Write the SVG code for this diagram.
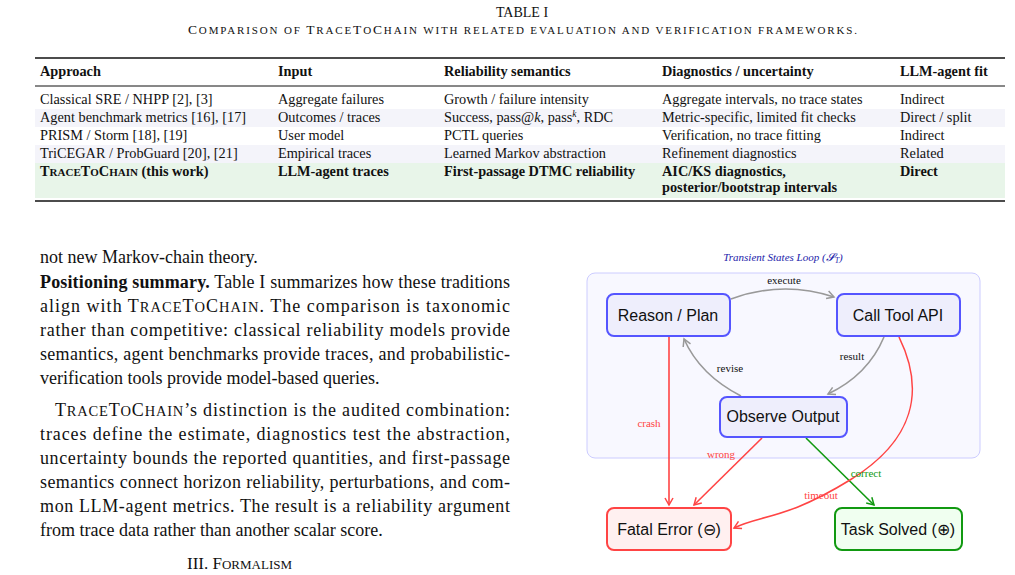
<svg xmlns="http://www.w3.org/2000/svg" width="1015" height="575" viewBox="0 0 1015 575">
<style>
.s{font-family:"Liberation Serif",serif;fill:#111}
.t{font-family:"Liberation Serif",serif;font-size:14.3px;fill:#111}
.b{font-weight:bold}
.p{font-family:"Liberation Serif",serif;font-size:18px;fill:#111}
.n{font-family:"Liberation Sans",Arial,sans-serif;font-size:16px;fill:#111;text-anchor:middle}
.l{font-family:"Liberation Serif",serif;font-size:11px;text-anchor:middle}
.bl rect{fill:#eeeefc;stroke:#5555ff;stroke-width:2}
.rd rect{fill:#fff0f0;stroke:#ff4444;stroke-width:2}
.gr rect{fill:#f0fff0;stroke:#119911;stroke-width:2}
</style>
<defs>
<marker id="ag" markerWidth="10" markerHeight="10" refX="8" refY="5" orient="auto" markerUnits="userSpaceOnUse"><path d="M1,1 L8,5 L1,9" fill="none" stroke="#999" stroke-width="1.5"/></marker>
<marker id="ar" markerWidth="10" markerHeight="10" refX="8" refY="5" orient="auto" markerUnits="userSpaceOnUse"><path d="M1,1 L8,5 L1,9" fill="none" stroke="#ff4444" stroke-width="1.5"/></marker>
<marker id="an" markerWidth="10" markerHeight="10" refX="8" refY="5" orient="auto" markerUnits="userSpaceOnUse"><path d="M1,1 L8,5 L1,9" fill="none" stroke="#119911" stroke-width="1.5"/></marker>
</defs>
<rect width="1015" height="575" fill="#fff"/>
<!-- table -->
<text class="s" x="522" y="17" font-size="14" text-anchor="middle">TABLE I</text>
<text class="s" x="188" y="34" font-size="13.5" textLength="669" lengthAdjust="spacing">C<tspan font-size="11">OMPARISON OF </tspan>T<tspan font-size="11">RACE</tspan>T<tspan font-size="11">O</tspan>C<tspan font-size="11">HAIN WITH RELATED EVALUATION AND VERIFICATION FRAMEWORKS.</tspan></text>
<rect x="35" y="109" width="970" height="18" fill="#f4f4fa"/>
<rect x="35" y="145" width="970" height="18" fill="#f4f4fa"/>
<rect x="35" y="163" width="970" height="35" fill="#e8f5e9"/>
<line x1="35" y1="58" x2="1005" y2="58" stroke="#111" stroke-width="1.6"/>
<line x1="35" y1="86" x2="1005" y2="86" stroke="#111" stroke-width="1"/>
<line x1="35" y1="201" x2="1005" y2="201" stroke="#111" stroke-width="1.6"/>
<g class="t b"><text x="40" y="76">Approach</text><text x="278" y="76">Input</text><text x="444" y="76">Reliability semantics</text><text x="662" y="76">Diagnostics / uncertainty</text><text x="900" y="76">LLM-agent fit</text></g>
<g class="t">
<text x="40" y="104">Classical SRE / NHPP [2], [3]</text><text x="278" y="104">Aggregate failures</text><text x="444" y="104">Growth / failure intensity</text><text x="662" y="104">Aggregate intervals, no trace states</text><text x="900" y="104">Indirect</text>
<text x="40" y="122">Agent benchmark metrics [16], [17]</text><text x="278" y="122">Outcomes / traces</text><text x="444" y="122">Success, pass@<tspan font-style="italic">k</tspan>, pass<tspan dy="-5" font-size="9.5" font-style="italic">k</tspan><tspan dy="5">, RDC</tspan></text><text x="662" y="122">Metric-specific, limited fit checks</text><text x="900" y="122">Direct / split</text>
<text x="40" y="140">PRISM / Storm [18], [19]</text><text x="278" y="140">User model</text><text x="444" y="140">PCTL queries</text><text x="662" y="140">Verification, no trace fitting</text><text x="900" y="140">Indirect</text>
<text x="40" y="158">TriCEGAR / ProbGuard [20], [21]</text><text x="278" y="158">Empirical traces</text><text x="444" y="158">Learned Markov abstraction</text><text x="662" y="158">Refinement diagnostics</text><text x="900" y="158">Related</text>
</g>
<g class="t b">
<text x="40" y="176">T<tspan font-size="11">RACE</tspan>T<tspan font-size="11">O</tspan>C<tspan font-size="11">HAIN</tspan> (this work)</text><text x="278" y="176">LLM-agent traces</text><text x="444" y="176">First-passage DTMC reliability</text><text x="662" y="176">AIC/KS diagnostics,</text><text x="662" y="192">posterior/bootstrap intervals</text><text x="900" y="176">Direct</text>
</g>
<!-- body text -->
<g class="p">
<text x="40" y="263">not new Markov-chain theory.</text>
<text x="40" y="288" textLength="470" lengthAdjust="spacing"><tspan font-weight="bold">Positioning summary.</tspan> Table I summarizes how these traditions</text>
<text x="40" y="312" textLength="470" lengthAdjust="spacing">align with T<tspan font-size="14.5">RACE</tspan>T<tspan font-size="14.5">O</tspan>C<tspan font-size="14.5">HAIN</tspan>. The comparison is taxonomic</text>
<text x="40" y="336" textLength="470" lengthAdjust="spacing">rather than competitive: classical reliability models provide</text>
<text x="40" y="360" textLength="470" lengthAdjust="spacing">semantics, agent benchmarks provide traces, and probabilistic-</text>
<text x="40" y="384">verification tools provide model-based queries.</text>
<text x="55" y="416" textLength="455" lengthAdjust="spacing">T<tspan font-size="14.5">RACE</tspan>T<tspan font-size="14.5">O</tspan>C<tspan font-size="14.5">HAIN</tspan>’s distinction is the audited combination:</text>
<text x="40" y="440" textLength="470" lengthAdjust="spacing">traces define the estimate, diagnostics test the abstraction,</text>
<text x="40" y="464" textLength="470" lengthAdjust="spacing">uncertainty bounds the reported quantities, and first-passage</text>
<text x="40" y="488" textLength="470" lengthAdjust="spacing">semantics connect horizon reliability, perturbations, and com-</text>
<text x="40" y="512" textLength="470" lengthAdjust="spacing">mon LLM-agent metrics. The result is a reliability argument</text>
<text x="40" y="536">from trace data rather than another scalar score.</text>
<text x="187" y="569" font-size="17">III. F<tspan font-size="13">ORMALISM</tspan></text>
</g>
<!-- diagram -->
<text class="s" x="783" y="261" font-size="11" font-style="italic" text-anchor="middle" style="fill:#2222aa">Transient States Loop (<tspan>𝓢</tspan><tspan font-size="8" dy="2">T</tspan><tspan dy="-2">)</tspan></text>
<rect x="587" y="273" width="393" height="185" rx="8" fill="#f8f8ff" stroke="#ccccff" stroke-width="1"/>
<g id="connectors" fill="none" stroke-width="1.6">
<path d="M731,299 Q783,280 834,297" stroke="#999" marker-end="url(#ag)"/>
<path d="M884,337 Q868,375 828,394" stroke="#999" marker-end="url(#ag)"/>
<path d="M741,396 Q700,375 684,339" stroke="#999" marker-end="url(#ag)"/>
<path d="M669,337 L669,505" stroke="#ff4444" marker-end="url(#ar)"/>
<path d="M762,438 L694,505" stroke="#ff4444" marker-end="url(#ar)"/>
<path d="M806,438 L874,505" stroke="#119911" marker-end="url(#an)"/>
<path d="M899,337 C925,390 915,440 850,480 S760,515 734,528" stroke="#ff4444" marker-end="url(#ar)"/>
</g>
<g class="l">
<text x="784" y="284" fill="#111">execute</text>
<text x="852" y="360" fill="#111">result</text>
<text x="730" y="372" fill="#111">revise</text>
<text x="649" y="427" fill="#ff4444">crash</text>
<text x="721" y="458" fill="#ff4444">wrong</text>
<text x="866" y="477" fill="#119911">correct</text>
<text x="821" y="499" fill="#ff4444">timeout</text>
</g>
<g id="reason" class="bl"><rect x="607" y="294" width="123" height="42" rx="7"/><text class="n" x="668" y="321">Reason / Plan</text></g>
<g id="calltool" class="bl"><rect x="837" y="294" width="123" height="42" rx="7"/><text class="n" x="898" y="321">Call Tool API</text></g>
<g id="observe" class="bl"><rect x="720" y="397" width="127" height="40" rx="7"/><text class="n" x="783" y="422">Observe Output</text></g>
<g id="fatal" class="rd"><rect x="607" y="508" width="124" height="42" rx="7"/><text class="n" x="669" y="535">Fatal Error (⊖)</text></g>
<g id="solved" class="gr"><rect x="835" y="508" width="127" height="42" rx="7"/><text class="n" x="898" y="535">Task Solved (⊕)</text></g>
</svg>
